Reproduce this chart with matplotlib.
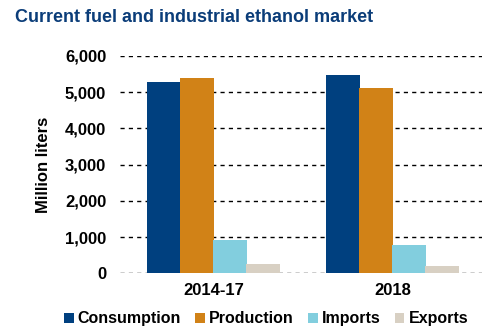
import matplotlib.pyplot as plt
import numpy as np

plt.rcParams['font.family'] = ['Liberation Sans', 'DejaVu Sans']
plt.rcParams['font.weight'] = 'bold'

# Dati (milioni di litri)
categories = ['2014-17', '2018']
series = ['Consumption', 'Production', 'Imports', 'Exports']
consumption = [5285, 5480]
production = [5395, 5120]
imports = [920, 785]
exports = [265, 200]
colors = ['#00407F', '#D18217', '#82CEDE', '#D8D0C3']

fig = plt.figure(figsize=(4.82, 3.32), dpi=100)
ax = fig.add_axes([0.249, 0.177, 0.751, 0.6545])

x = np.arange(len(categories))
width = 0.19
step = 0.185
values = [consumption, production, imports, exports]
for i, (name, vals) in enumerate(zip(series, values)):
    ax.bar(x + (i - 1.5) * step, vals, width=width, color=colors[i], label=name, zorder=3)

ax.set_xlim(-0.525, 1.5)
ax.set_ylim(0, 6000)
ax.set_yticks(range(0, 6001, 1000))
ax.set_yticklabels([f'{v:,}' for v in range(0, 6001, 1000)])
ax.set_xticks(x)
ax.set_xticklabels(categories)
ax.tick_params(axis='both', length=0, labelsize=12)
ax.tick_params(axis='y', pad=10)
ax.tick_params(axis='x', pad=7)
ax.grid(axis='y', color='black', linestyle=(0, (3, 3)), linewidth=1, zorder=0)
for s in ax.spines.values():
    s.set_visible(False)

ax.set_ylabel('Million liters', fontsize=12, fontweight='bold', labelpad=10)

fig.text(0.031, 0.948, 'Current fuel and industrial ethanol market', fontsize=13,
         fontweight='bold', color='#0B3D79', va='center')

fig.legend(loc='center', bbox_to_anchor=(0.552, 0.04), ncol=4, frameon=False,
           fontsize=11.5, handlelength=0.6, handleheight=0.6, handletextpad=0.25,
           columnspacing=0.9, borderaxespad=0)

fig.savefig('out.png', dpi=100)
